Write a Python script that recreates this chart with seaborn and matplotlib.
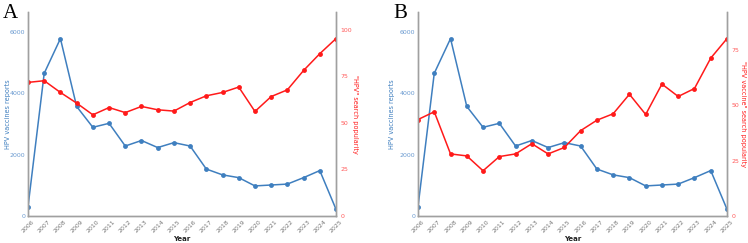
import matplotlib
matplotlib.use("Agg")
import matplotlib.pyplot as plt
import seaborn as sns
import pandas as pd

years = list(range(2006, 2026))
reports = [300, 4650, 5780, 3570, 2890, 3020, 2280, 2460, 2230, 2390,
           2280, 1530, 1340, 1250, 980, 1010, 1040, 1250, 1480, 220]
search_hpv = [71.7, 72.6, 66.3, 60.6, 54.3, 58.2, 55.5, 58.8, 57.0, 56.3,
              60.9, 64.5, 66.3, 69.2, 56.1, 64.1, 67.7, 78.1, 87.1, 95.2]
search_hpv_vaccine = [43.5, 47.0, 28.0, 27.1, 20.4, 26.8, 28.0, 32.6, 28.0, 30.9,
                      38.5, 43.2, 46.1, 54.9, 45.8, 59.5, 53.9, 57.5, 71.2, 80.0]
left_ticks = [0, 2000, 4000, 6000]
right_ticks_a = [0, 25, 50, 75, 100]
right_ticks_b = [0, 25, 50, 75]
panel_labels = ["A", "B"]
right_labels = ['"HPV" search popularity', '"HPV vaccine" search popularity']

sns.set_theme(style="white")
plt.rcParams['font.family'] = ['DejaVu Sans']

BLUE = "#3F7FBF"
RED = "#FF1A1A"
SPINE = "#A0A0A0"

fig = plt.figure(figsize=(7.48, 2.43), dpi=100)
W, H = 748, 243
boxes = [(28, 336), (418, 727)]
left_lab_x = [8, 392]
right_lab_x = [355, 743]
top_px, bot_px = 12, 216

df = pd.DataFrame({"Year": years, "reports": reports,
                   "s_a": search_hpv, "s_b": search_hpv_vaccine})

for i, (l, r) in enumerate(boxes):
    wpx = r - l
    hpx = bot_px - top_px
    ax = fig.add_axes([l / W, 1 - bot_px / H, wpx / W, hpx / H])
    ax2 = ax.twinx()
    scol = "s_a" if i == 0 else "s_b"
    sns.lineplot(data=df, x="Year", y="reports", ax=ax, color=BLUE, marker="o",
                 markersize=3.5, markeredgewidth=0, linewidth=1.1)
    sns.lineplot(data=df, x="Year", y=scol, ax=ax2, color=RED, marker="o",
                 markersize=3.5, markeredgewidth=0, linewidth=1.1)
    ax.set_xlim(2006, 2025)
    ax.set_ylim(0, max(reports) * 1.15)
    ax2.set_ylim(0, max(df[scol]) * 1.15)
    ax.set_xticks(years)
    ax.set_xticklabels([str(y) for y in years], rotation=45, fontsize=4.5,
                       color="#777777", ha="center", va="top")
    ax.set_yticks(left_ticks)
    ax.set_yticklabels([str(t) for t in left_ticks], fontsize=4.5, color="#6A9AD0")
    rt = right_ticks_a if i == 0 else right_ticks_b
    ax2.set_yticks(rt)
    ax2.set_yticklabels([str(t) for t in rt], fontsize=4.5, color="#FF5A5A")
    ax.tick_params(axis="both", length=0, pad=2)
    ax2.tick_params(axis="y", length=0, pad=3)
    ax.set_xlabel("Year", fontsize=5, fontweight="bold", color="#222222")
    ax.xaxis.set_label_coords(0.5, (bot_px - 239) / hpx)
    ax.xaxis.label.set_va("center")
    ax.set_ylabel("HPV vaccines reports", fontsize=4.7, color=BLUE)
    ax.yaxis.set_label_coords((left_lab_x[i] - l) / wpx, 0.5)
    ax.yaxis.label.set_va("center")
    ax2.set_ylabel(right_labels[i], fontsize=4.7, color=RED, rotation=270)
    ax2.yaxis.set_label_coords((right_lab_x[i] - l) / wpx, 0.5)
    ax2.yaxis.label.set_va("center")
    for a in (ax, ax2):
        a.spines["top"].set_visible(False)
        for s in ("left", "right", "bottom"):
            a.spines[s].set_color(SPINE)
            a.spines[s].set_linewidth(1.0)
        a.grid(False)
    ax.set_facecolor("none")
    fig.text((l - 25) / W, 1 - 18 / H, panel_labels[i], fontsize=15,
             family=["Liberation Serif", "DejaVu Serif"], color="black", va="baseline")

fig.savefig("out.png", dpi=100)
